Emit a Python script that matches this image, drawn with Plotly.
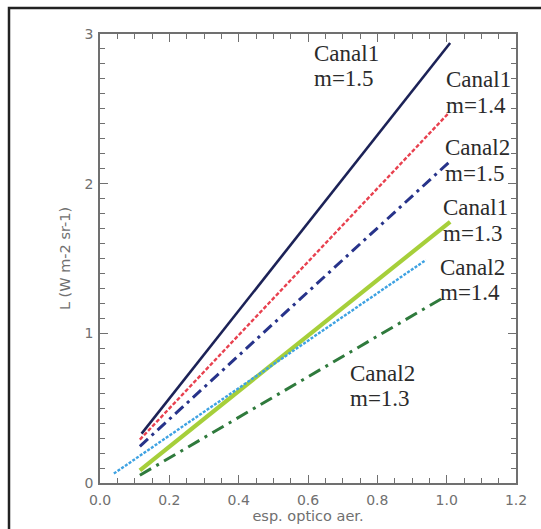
import plotly.graph_objects as go

# Radiance vs aerosol optical depth, straight-line segments (start, end)
series_names = ["Canal1 m=1.5", "Canal1 m=1.4", "Canal2 m=1.5",
                "Canal1 m=1.3", "Canal2 m=1.4", "Canal2 m=1.3"]
tau_values = [
    [0.12, 1.01],
    [0.115, 1.005],
    [0.115, 1.01],
    [0.115, 1.01],
    [0.04, 0.94],
    [0.115, 0.995],
]
radiance_values = [
    [0.33, 2.94],
    [0.29, 2.47],
    [0.245, 2.15],
    [0.085, 1.745],
    [0.063, 1.49],
    [0.052, 1.245],
]

# Curve labels: channel line and refractive-index line, with anchors (data units)
label_channel = ["Canal1", "Canal1", "Canal2", "Canal1", "Canal2", "Canal2"]
label_index = ["m=1.5", "m=1.4", "m=1.5", "m=1.3", "m=1.4", "m=1.3"]
label_x = [0.612, 0.992, 0.99, 0.985, 0.975, 0.715]
label_y_top = [2.87, 2.695, 2.24, 1.84, 1.44, 0.735]
label_y_bottom = [2.70, 2.525, 2.065, 1.67, 1.27, 0.565]

line_styles = [
    dict(color="#1c2257", width=2.6, dash="solid"),
    dict(color="#e8414f", width=2.4, dash="4px,2px"),
    dict(color="#27338a", width=3.0, dash="11px,5px,3px,5px"),
    dict(color="#a6cf3a", width=4.2, dash="solid"),
    dict(color="#3ea2e2", width=2.4, dash="3px,1.5px"),
    dict(color="#2f7a3c", width=3.0, dash="13px,6px,3px,6px"),
]

fig = go.Figure()
for name, xs, ys, st in zip(series_names, tau_values, radiance_values, line_styles):
    fig.add_trace(go.Scatter(x=xs, y=ys, mode="lines", name=name, line=st,
                             showlegend=False))

label_font = dict(family="Liberation Serif", size=23, color="#2b2b2b")
for ch, idx, lx, yt, yb in zip(label_channel, label_index, label_x,
                               label_y_top, label_y_bottom):
    fig.add_annotation(x=lx, y=yt, text=ch, showarrow=False,
                       xanchor="left", yanchor="middle", font=label_font)
    fig.add_annotation(x=lx, y=yb, text=idx, showarrow=False,
                       xanchor="left", yanchor="middle", font=label_font)

axis_grey = "#707070"
axis_common = dict(
    showgrid=False, zeroline=False, showline=True, linecolor=axis_grey,
    linewidth=1.5, mirror="ticks", ticks="inside", tickcolor=axis_grey,
    tickwidth=1.2, ticklen=8,
    tickfont=dict(family="DejaVu Sans", size=14, color=axis_grey),
)
title_font = dict(family="DejaVu Sans", size=14.5, color=axis_grey)

fig.update_xaxes(range=[0, 1.2], tickvals=[0, 0.2, 0.4, 0.6, 0.8, 1.0, 1.2],
                 ticktext=["0.0", "0.2", "0.4", "0.6", "0.8", "1.0", "1.2"],
                 ticklabelstandoff=3,
                 minor=dict(dtick=0.05, ticks="inside", ticklen=5,
                            tickcolor=axis_grey, tickwidth=1.1),
                 title=dict(text="esp. optico aer.", standoff=0, font=title_font),
                 **axis_common)
fig.update_yaxes(range=[0, 3], tickvals=[0, 1, 2, 3],
                 ticklabelstandoff=2,
                 minor=dict(dtick=0.1, ticks="inside", ticklen=5,
                            tickcolor=axis_grey, tickwidth=1.1),
                 title=dict(text="L (W m-2 sr-1)", standoff=10, font=title_font),
                 **axis_common)

# Outer frame around the figure
fig.add_shape(type="rect", xref="paper", yref="paper",
              x0=(9 - 100) / 416, x1=(548 - 100) / 416,
              y0=(483 - 540) / 449, y1=(483 - 8) / 449,
              line=dict(color="#222222", width=2.5), layer="below")

fig.update_layout(
    width=541, height=529,
    margin=dict(l=100, r=25, t=34, b=46),
    paper_bgcolor="white", plot_bgcolor="white",
)

fig.write_html("out.html")
